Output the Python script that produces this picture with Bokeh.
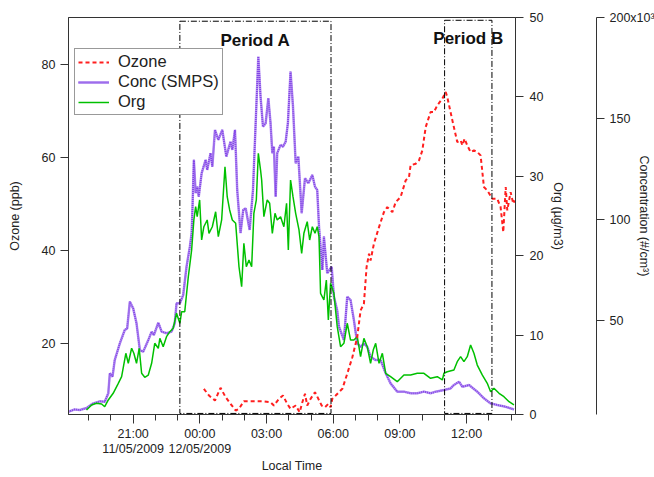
from bokeh.plotting import figure
from bokeh.models import (Range1d, LinearAxis, FixedTicker, Legend, LegendItem,
                          BoxAnnotation, Label)
from bokeh.embed import file_html
from bokeh.resources import INLINE

# ---------------- data (time = hours relative to 00:00 local time, 12/05/2009) ----------------
conc_hours = [-5.92, -5.63, -5.40, -5.10, -4.80, -4.50, -4.28, -4.12, -4.05, -3.93, -3.83, -3.60,
              -3.38, -3.27, -3.15, -3.00, -2.85, -2.70, -2.55, -2.32, -2.17, -2.07, -1.87, -1.72,
              -1.50, -1.27, -1.13, -1.05, -0.90, -0.75, -0.60, -0.45, -0.37, -0.33, -0.27, -0.19,
              -0.12, -0.05, 0.08, 0.26, 0.33, 0.48, 0.56, 0.68, 0.83, 1.01, 1.19, 1.38, 1.46, 1.58,
              1.68, 1.83, 1.95, 2.06, 2.24, 2.39, 2.51, 2.63, 2.73, 2.84, 2.96, 3.08, 3.18, 3.26,
              3.33, 3.41, 3.48, 3.63, 3.74, 3.86, 3.96, 4.08, 4.19, 4.31, 4.43, 4.58, 4.73, 4.88,
              5.06, 5.18, 5.28, 5.36, 5.51, 5.58, 5.73, 5.93, 6.03, 6.18, 6.26, 6.48, 6.63, 6.78,
              6.93, 7.08, 7.23, 7.38, 7.53, 7.68, 7.91, 8.13, 8.36, 8.58, 8.88, 9.18, 9.48, 9.78,
              10.08, 10.38, 10.61, 10.98, 11.28, 11.43, 11.66, 11.81, 12.11, 12.48, 12.78, 13.08,
              13.38, 13.76, 14.13]
# particle number concentration, thousands of particles per cm3
conc_thousands = [4.95, 6.1, 5.8, 6.8, 9.1, 10.1, 9.9, 14.1, 24.0, 22.3, 30.5, 38.8,
                  45.4, 46.2, 59.4, 56.1, 48.7, 35.5, 34.7, 40.4, 44.6, 42.9, 49.0, 44.6,
                  43.8, 44.6, 48.7, 58.6, 58.6, 62.7, 76.7, 86.6, 93.3, 106.4, 129.6, 113.1,
                  116.3, 111.4, 123.0, 129.6, 124.6, 132.9, 126.2, 144.4, 139.5, 144.4, 131.2, 138.6, 134.5, 144.4,
                  114.7, 93.3, 104.8, 105.6, 94.9, 114.7, 147.7, 180.7, 160.9, 146.0, 147.7, 160.1, 147.7, 132.9,
                  136.1, 111.4, 132.9, 137.0, 136.1, 138.6, 147.7, 173.3, 155.9, 127.9, 131.2, 103.2, 120.5, 118.0,
                  122.1, 116.3, 114.7, 96.5, 75.1, 91.6, 73.5, 76.7, 61.9, 55.0, 47.0, 40.4, 61.9, 60.2,
                  50.3, 38.8, 37.1, 38.8, 37.1, 32.2, 30.5, 30.5, 24.0, 19.0, 14.9, 14.9, 14.1, 14.1,
                  14.9, 14.1, 14.9, 15.7, 16.5, 18.2, 19.8, 17.3, 18.2, 14.9, 11.6, 9.1,
                  8.3, 7.4, 6.1]

org_hours = [-5.10, -4.87, -4.65, -4.42, -4.28, -4.12, -3.90, -3.67, -3.52, -3.33, -3.22, -3.07,
             -2.97, -2.85, -2.73, -2.62, -2.48, -2.32, -2.17, -2.03, -1.87, -1.80, -1.65, -1.50,
             -1.35, -1.20, -1.05, -0.90, -0.82, -0.68, -0.52, -0.37, -0.27, -0.19, -0.12, -0.01,
             0.08, 0.18, 0.33, 0.41, 0.56, 0.71, 0.83, 0.98, 1.13, 1.23, 1.34, 1.46, 1.61, 1.76,
             1.88, 1.98, 2.09, 2.21, 2.33, 2.43, 2.54, 2.63, 2.73, 2.78, 2.88, 3.03, 3.14, 3.26,
             3.38, 3.48, 3.63, 3.78, 3.90, 3.98, 4.08, 4.19, 4.31, 4.46, 4.58, 4.68, 4.83, 4.94,
             5.06, 5.18, 5.28, 5.36, 5.43, 5.58, 5.69, 5.78, 5.88, 6.03, 6.18, 6.33, 6.48, 6.63,
             6.78, 6.93, 7.08, 7.23, 7.38, 7.53, 7.68, 7.80, 7.91, 8.06, 8.21, 8.36, 8.58, 8.88,
             9.18, 9.48, 9.78, 10.08, 10.38, 10.68, 10.91, 10.98, 11.13, 11.43, 11.58, 11.73, 11.88,
             12.03, 12.18, 12.33, 12.48, 12.71, 12.93, 13.08, 13.23, 13.46, 13.68, 13.91, 14.13]
# organic aerosol mass, ug/m3
org_values = [0.57, 1.20, 1.41, 1.32, 0.98, 1.83, 2.67, 3.93, 4.76, 7.71, 6.45, 8.34,
              7.71, 6.45, 8.34, 5.19, 4.69, 4.97, 6.45, 8.97, 8.34, 9.60, 8.54, 9.80,
              10.43, 10.86, 12.75, 11.49, 12.95, 12.95, 17.35, 20.72, 24.50, 26.17, 24.91, 27.02,
              21.98, 23.65, 24.50, 22.82, 23.65, 25.54, 22.39, 24.50, 31.21, 27.43, 25.76, 24.50, 24.08, 18.61,
              16.10, 21.56, 18.61, 19.46, 18.61, 25.34, 27.02, 32.90, 30.79, 29.53, 24.91, 27.02, 26.60, 22.82,
              25.34, 24.50, 24.91, 23.65, 26.60, 20.72, 29.53, 27.43, 25.34, 23.24, 20.30, 22.82, 24.28, 21.98,
              23.65, 22.82, 23.65, 22.39, 15.26, 14.42, 16.94, 11.90, 16.52, 15.26, 11.06, 8.54, 8.97, 11.49,
              9.38, 9.38, 9.80, 7.28, 9.60, 8.54, 6.45, 8.12, 8.97, 6.45, 7.71, 5.19, 4.76, 4.13,
              4.97, 4.97, 5.19, 5.19, 4.56, 4.76, 4.35, 5.19, 5.39, 5.60, 6.65, 7.28, 6.65,
              7.28, 8.75, 7.71, 6.23, 4.97, 3.93, 2.87, 3.30, 2.67, 2.24, 1.61, 1.20]

ozone_hours = [0.18, 0.41, 0.68, 0.93, 1.16, 1.38, 1.61, 1.76, 1.98, 2.36, 2.81, 3.18, 3.33, 3.56,
               3.74, 3.93, 4.08, 4.31, 4.49, 4.61, 4.73, 4.83, 4.98, 5.18, 5.33, 5.48, 5.63, 5.78,
               5.88, 5.96, 6.11, 6.33, 6.41, 6.63, 6.86, 7.08, 7.23, 7.38, 7.50, 7.61, 7.68, 7.83,
               8.06, 8.28, 8.43, 8.66, 8.81, 9.03, 9.26, 9.41, 9.48, 9.71, 9.86, 10.01, 10.16, 10.38,
               10.53, 10.68, 10.91, 11.06, 11.13, 11.36, 11.58, 11.73, 11.81, 11.91, 12.03, 12.18,
               12.33, 12.48, 12.63, 12.78, 12.93, 13.16, 13.38, 13.53, 13.65, 13.76, 13.83, 13.98,
               14.10, 14.16]
# ozone mixing ratio, ppb
ozone_values = [10.19, 8.75, 7.68, 10.41, 8.39, 6.97, 5.53, 5.89, 7.53, 7.53, 7.53, 7.31, 6.60, 8.04,
                8.75, 6.97, 5.89, 6.60, 5.16, 7.31, 9.12, 6.60, 8.04, 9.46, 8.04, 6.60, 6.24, 6.97,
                6.24, 8.04, 8.75, 9.83, 10.19, 13.42, 16.99, 21.29, 27.03, 28.47, 36.34, 39.23, 37.78, 41.38,
                44.95, 48.17, 49.25, 48.17, 50.32, 51.40, 54.99, 55.70, 58.22, 58.58, 59.29, 61.44, 66.45, 69.68,
                69.68, 71.12, 72.56, 73.98, 72.90, 67.89, 63.23, 63.59, 62.52, 63.96, 62.52, 61.08,
                61.44, 61.08, 60.37, 53.55, 52.84, 51.05, 51.05, 49.25, 43.87, 53.55, 48.54, 52.47,
                49.98, 50.69]

x_ticks = [-3, 0, 3, 6, 9, 12]
x_tick_labels = ["21:00\n11/05/2009", "00:00\n12/05/2009", "03:00", "06:00", "09:00", "12:00"]
x_minor_ticks = [-5, -4, -2, -1, 1, 2, 4, 5, 7, 8, 10, 11, 13, 14]
ozone_ticks = [20, 40, 60, 80]
org_ticks = [0, 10, 20, 30, 40, 50]
conc_ticks = [50, 100, 150, 200]
conc_tick_labels = ["50", "100", "150", "200x10³"]

period_names = ["Period A", "Period B"]
period_start = [-0.90, 11.01]
period_end = [5.90, 13.14]
period_top = [89.2, 89.4]       # ppb (left axis units)
period_bottom = [4.9, 4.9]
period_label_y = [85.1, 85.4]

# ---------------- figure ----------------
FONT = "Liberation Sans"
AX = "#333333"
TXT = "#222222"

p = figure(width=654, height=477, output_backend="svg", toolbar_location=None,
           x_range=Range1d(-5.91, 14.2), y_range=Range1d(4.67, 90),
           min_border_left=68, min_border_right=139, min_border_top=17, min_border_bottom=63)
p.extra_y_ranges = {"org": Range1d(0, 50), "conc": Range1d(3.6, 200)}
p.xgrid.visible = False
p.ygrid.visible = False
p.outline_line_color = AX
p.background_fill_color = "white"
p.border_fill_color = "white"


def style_axis(ax, label_standoff=5, tick_out=8):
    ax.axis_line_color = AX
    ax.major_tick_line_color = AX
    ax.major_tick_out = tick_out
    ax.major_tick_in = 0
    ax.minor_tick_line_color = None
    ax.major_label_standoff = label_standoff
    ax.major_label_text_font = FONT
    ax.major_label_text_font_size = "12.5px"
    ax.major_label_text_color = TXT
    ax.axis_label_text_font = FONT
    ax.axis_label_text_font_size = "12.5px"
    ax.axis_label_text_font_style = "normal"
    ax.axis_label_text_color = TXT


# bottom (time) axis
xa = p.xaxis[0]
style_axis(xa, label_standoff=3, tick_out=9)
xa.ticker = FixedTicker(ticks=x_ticks, minor_ticks=x_minor_ticks)
xa.major_label_overrides = dict(zip(x_ticks, x_tick_labels))
xa.major_label_text_line_height = 1.1
xa.minor_tick_line_color = AX
xa.minor_tick_out = 6
xa.minor_tick_in = 0
xa.axis_label = "Local Time"
xa.axis_label_standoff = 0

# left (ozone) axis
ya = p.yaxis[0]
style_axis(ya)
ya.ticker = FixedTicker(ticks=ozone_ticks)
ya.axis_label = "Ozone (ppb)"
ya.axis_label_standoff = 17

# right axes
org_axis = LinearAxis(y_range_name="org", ticker=FixedTicker(ticks=org_ticks), axis_label="Org (µg/m3)")
style_axis(org_axis, label_standoff=6)
org_axis.axis_label_standoff = 5
p.add_layout(org_axis, "right")

spacer = LinearAxis(y_range_name="org", ticker=FixedTicker(ticks=[]), axis_label=" ")
spacer.axis_line_color = None
spacer.major_tick_line_color = None
spacer.minor_tick_line_color = None
spacer.major_tick_out = 0
spacer.major_tick_in = 0
spacer.major_label_standoff = 0
spacer.axis_label_text_font_size = "12.5px"
spacer.axis_label_standoff = 11
p.add_layout(spacer, "right")

conc_axis = LinearAxis(y_range_name="conc", ticker=FixedTicker(ticks=conc_ticks),
                       axis_label="Concentration (#/cm³)")
style_axis(conc_axis, label_standoff=5)
conc_axis.major_label_overrides = dict(zip(conc_ticks, conc_tick_labels))
conc_axis.axis_label_standoff = -21
p.add_layout(conc_axis, "right")

# ---------------- series ----------------
r_conc_base = p.line(conc_hours, conc_thousands, y_range_name="conc",
                     line_color="#B895F2", line_width=2.5)
r_conc_dots = p.line(conc_hours, conc_thousands, y_range_name="conc",
                     line_color="#8244E6", line_width=1.8, line_dash="1 1")
r_org = p.line(org_hours, org_values, y_range_name="org", line_color="#00C000", line_width=1.5)
r_oz = p.line(ozone_hours, ozone_values, line_color="#FF1F1F", line_width=2, line_dash="4 3")

# ---------------- periods ----------------
for name, s, e, t, b, ly in zip(period_names, period_start, period_end, period_top,
                                period_bottom, period_label_y):
    p.add_layout(BoxAnnotation(left=s, right=e, top=t, bottom=b, fill_color=None, fill_alpha=0,
                               line_color="black", line_alpha=1, line_width=1, line_dash="6 2 1 2"))
    p.add_layout(Label(x=(s + e) / 2, y=ly, text=name, text_align="center", text_baseline="middle",
                       text_font=FONT, text_font_size="17px", text_font_style="bold",
                       text_color="#111111"))

# ---------------- legend ----------------
legend = Legend(items=[LegendItem(label="Ozone", renderers=[r_oz]),
                       LegendItem(label="Conc (SMPS)", renderers=[r_conc_base, r_conc_dots]),
                       LegendItem(label="Org", renderers=[r_org])],
                location=(6, 299), border_line_color=AX, border_line_width=1,
                padding=3, spacing=1, margin=0, glyph_width=31, glyph_height=16,
                label_height=16, label_standoff=9, label_text_font=FONT,
                label_text_font_size="16.5px", label_text_color=TXT,
                background_fill_color="white", background_fill_alpha=1)
p.add_layout(legend)

open("out.html", "w").write(file_html(p, INLINE, title="Ozone, Org and particle concentration"))
